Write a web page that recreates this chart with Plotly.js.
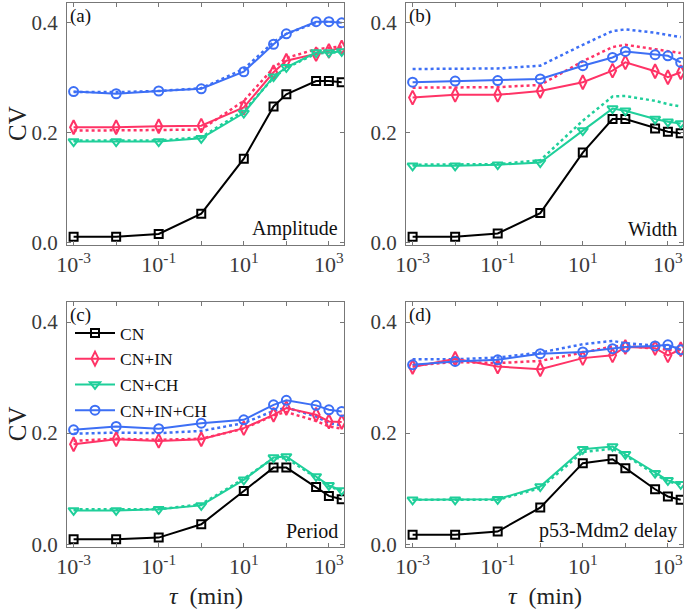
<!DOCTYPE html>
<html>
<head>
<meta charset="utf-8">
<script src="https://cdn.plot.ly/plotly-3.0.1.min.js"></script>
<style>html,body{margin:0;padding:0;background:#fff;} #chart{width:685px;height:610px;}</style>
</head>
<body>
<div id="chart"></div>
<script>
// tau values (min)
const tau = [0.001, 0.01, 0.1, 1, 10, 50, 100, 500, 1000, 2000];
const seriesNames = ['CN', 'CN+IN', 'CN+CH', 'CN+IN+CH'];
const xTickVals = [1e-3, 1e-2, 1e-1, 1, 10, 100, 1000];
const xTickText = ['10<sup>-3</sup>', '', '10<sup>-1</sup>', '', '10<sup>1</sup>', '', '10<sup>3</sup>'];
const yTickVals = [0, 0.2, 0.4];
const yTickText = ['0.0', '0.2', '0.4'];
const panelLabels = ['(a)', '(b)', '(c)', '(d)'];
const panelTitles = ['Amplitude', 'Width', 'Period', 'p53-Mdm2 delay'];

// (a) Amplitude
const ampCN     = [0.011, 0.011, 0.016, 0.053, 0.153, 0.248, 0.270, 0.294, 0.294, 0.292];
const ampIN     = [0.210, 0.210, 0.212, 0.213, 0.246, 0.310, 0.331, 0.343, 0.349, 0.355];
const ampCH     = [0.184, 0.184, 0.184, 0.190, 0.236, 0.302, 0.319, 0.346, 0.346, 0.348];
const ampINCH   = [0.275, 0.271, 0.276, 0.280, 0.311, 0.361, 0.380, 0.402, 0.402, 0.400];
const ampINdot  = [0.204, 0.204, 0.205, 0.206, 0.258, 0.318, 0.336, 0.352, 0.355, 0.357];
const ampCHdot  = [0.186, 0.186, 0.186, 0.192, 0.240, 0.300, 0.318, 0.344, 0.346, 0.346];
const ampINCHdot= [0.274, 0.274, 0.276, 0.281, 0.316, 0.365, 0.380, 0.400, 0.402, 0.401];

// (b) Width
const widCN     = [0.011, 0.011, 0.017, 0.054, 0.164, 0.225, 0.225, 0.208, 0.202, 0.199];
const widIN     = [0.264, 0.269, 0.269, 0.276, 0.292, 0.313, 0.328, 0.312, 0.301, 0.310];
const widCH     = [0.140, 0.140, 0.142, 0.146, 0.204, 0.244, 0.240, 0.225, 0.220, 0.217];
const widINCH   = [0.292, 0.294, 0.295, 0.298, 0.322, 0.337, 0.348, 0.342, 0.340, 0.328];
const widINdot  = [0.282, 0.282, 0.283, 0.287, 0.330, 0.356, 0.360, 0.352, 0.348, 0.345];
const widCHdot  = [0.142, 0.142, 0.143, 0.150, 0.222, 0.266, 0.267, 0.258, 0.252, 0.248];
const widINCHdot= [0.316, 0.316, 0.317, 0.322, 0.360, 0.385, 0.388, 0.382, 0.378, 0.374];

// (c) Period
const perCN     = [0.009, 0.009, 0.012, 0.036, 0.096, 0.138, 0.138, 0.103, 0.087, 0.081];
const perIN     = [0.180, 0.189, 0.186, 0.189, 0.209, 0.233, 0.245, 0.233, 0.221, 0.220];
const perCH     = [0.061, 0.061, 0.063, 0.070, 0.116, 0.156, 0.158, 0.122, 0.106, 0.097];
const perINCH   = [0.206, 0.212, 0.208, 0.218, 0.224, 0.251, 0.259, 0.250, 0.242, 0.239];
const perINdot  = [0.186, 0.190, 0.188, 0.190, 0.208, 0.232, 0.238, 0.222, 0.212, 0.208];
const perCHdot  = [0.063, 0.063, 0.063, 0.072, 0.118, 0.155, 0.155, 0.120, 0.104, 0.096];
const perINCHdot= [0.199, 0.201, 0.200, 0.204, 0.218, 0.240, 0.246, 0.230, 0.218, 0.214];

// (d) p53-Mdm2 delay
const delCN     = [0.017, 0.017, 0.023, 0.066, 0.146, 0.153, 0.137, 0.099, 0.086, 0.080];
const delIN     = [0.319, 0.334, 0.320, 0.315, 0.335, 0.340, 0.355, 0.353, 0.340, 0.351];
const delCH     = [0.080, 0.080, 0.081, 0.104, 0.171, 0.176, 0.162, 0.128, 0.115, 0.108];
const delINCH   = [0.323, 0.329, 0.332, 0.343, 0.346, 0.352, 0.355, 0.357, 0.359, 0.350];
const delINdot  = [0.322, 0.328, 0.326, 0.330, 0.345, 0.356, 0.357, 0.352, 0.350, 0.348];
const delCHdot  = [0.080, 0.080, 0.080, 0.101, 0.166, 0.172, 0.160, 0.126, 0.113, 0.108];
const delINCHdot= [0.333, 0.333, 0.336, 0.345, 0.360, 0.366, 0.362, 0.358, 0.356, 0.352];

const colors = ['#000000', '#ff3366', '#1fcf9a', '#3d6ff5'];
const symbols = ['square-open', 'diamond-tall-open', 'triangle-down-open', 'circle-open'];
const sizes = [8, 10, 9, 9];

const panels = [
  {solid: [ampCN, ampIN, ampCH, ampINCH], dot: [null, ampINdot, ampCHdot, ampINCHdot]},
  {solid: [widCN, widIN, widCH, widINCH], dot: [null, widINdot, widCHdot, widINCHdot]},
  {solid: [perCN, perIN, perCH, perINCH], dot: [null, perINdot, perCHdot, perINCHdot]},
  {solid: [delCN, delIN, delCH, delINCH], dot: [null, delINdot, delCHdot, delINCHdot]}
];

const traces = [];
panels.forEach((p, pi) => {
  const xa = pi === 0 ? 'x' : 'x' + (pi + 1);
  const ya = pi === 0 ? 'y' : 'y' + (pi + 1);
  p.dot.forEach((d, si) => {
    if (!d) return;
    traces.push({x: tau, y: d, xaxis: xa, yaxis: ya, mode: 'lines', showlegend: false,
      line: {color: colors[si], width: 2.5, dash: 'dot'}, hoverinfo: 'skip'});
  });
  p.solid.forEach((s, si) => {
    traces.push({x: tau, y: s, xaxis: xa, yaxis: ya, mode: 'lines+markers',
      name: seriesNames[si], showlegend: pi === 2, legendgroup: seriesNames[si],
      line: {color: colors[si], width: 2},
      marker: {symbol: symbols[si], size: sizes[si], color: colors[si], line: {width: 2, color: colors[si]}}});
  });
});

const font = 'Liberation Serif, DejaVu Serif, serif';
const xDom = [[67/685, 344/685], [406/685, 683/685]];
const yDom = [[1 - 245/610, 1 - 3/610], [1 - 546.5/610, 1 - 302/610]];

function xAxis(col, row) {
  return {type: 'log', range: [-3.155, 3.355], domain: xDom[col], anchor: row === 0 ? (col === 0 ? 'y' : 'y2') : (col === 0 ? 'y3' : 'y4'),
    tickvals: xTickVals, ticktext: xTickText, ticks: 'inside', ticklen: 4, tickcolor: '#777',
    showline: true, linecolor: '#777', linewidth: 1, mirror: 'ticks', showgrid: false, zeroline: false,
    tickfont: {family: font, size: 22, color: '#3a3a3a'}};
}
function yAxis(col, row) {
  return {range: [-0.004, 0.436], domain: yDom[row], anchor: row === 0 ? (col === 0 ? 'x' : 'x2') : (col === 0 ? 'x3' : 'x4'),
    tickvals: yTickVals, ticktext: yTickText, ticks: 'inside', ticklen: 4, tickcolor: '#777',
    showline: true, linecolor: '#777', linewidth: 1, mirror: 'ticks', showgrid: false, zeroline: false,
    ticklabelstandoff: 4,
    tickfont: {family: font, size: 21, color: '#3a3a3a'}};
}

const annotations = [];
const cells = [[0, 0], [1, 0], [0, 1], [1, 1]];
cells.forEach(([c, r], i) => {
  annotations.push({xref: 'paper', yref: 'paper', x: xDom[c][0] + 1/685, y: yDom[r][1] - 0/610,
    xanchor: 'left', yanchor: 'top', text: panelLabels[i], showarrow: false,
    font: {family: font, size: 19, color: '#111'}});
  annotations.push({xref: 'paper', yref: 'paper', x: xDom[c][1] - 4/685, y: yDom[r][0] + 3/610,
    xanchor: 'right', yanchor: 'bottom', text: panelTitles[i], showarrow: false,
    font: {family: font, size: 20, color: '#111'}});
});
[0, 1].forEach(r => {
  annotations.push({xref: 'paper', yref: 'paper', x: 17/685, y: (yDom[r][0] + yDom[r][1]) / 2,
    text: 'CV', textangle: -90, showarrow: false, xanchor: 'center', yanchor: 'middle',
    font: {family: font, size: 25, color: '#222'}});
});
[0, 1].forEach(c => {
  annotations.push({xref: 'paper', yref: 'paper', x: (xDom[c][0] + xDom[c][1]) / 2, y: 1 - 596/610,
    text: '<i>τ</i>  (min)', showarrow: false, xanchor: 'center', yanchor: 'middle',
    font: {family: font, size: 24, color: '#222'}});
});

const layout = {
  width: 685, height: 610, margin: {l: 0, r: 0, t: 0, b: 0},
  paper_bgcolor: '#fff', plot_bgcolor: '#fff',
  font: {family: font},
  xaxis: xAxis(0, 0), yaxis: yAxis(0, 0),
  xaxis2: xAxis(1, 0), yaxis2: yAxis(1, 0),
  xaxis3: xAxis(0, 1), yaxis3: yAxis(0, 1),
  xaxis4: xAxis(1, 1), yaxis4: yAxis(1, 1),
  showlegend: true,
  legend: {x: 70/685, y: 1 - 315/610, xanchor: 'left', yanchor: 'top', bgcolor: 'rgba(0,0,0,0)',
    font: {family: font, size: 17.5, color: '#111'}, tracegroupgap: 0, traceorder: 'normal', itemwidth: 40},
  annotations: annotations
};

Plotly.newPlot('chart', traces, layout, {staticPlot: true, displayModeBar: false});
</script>
</body>
</html>
